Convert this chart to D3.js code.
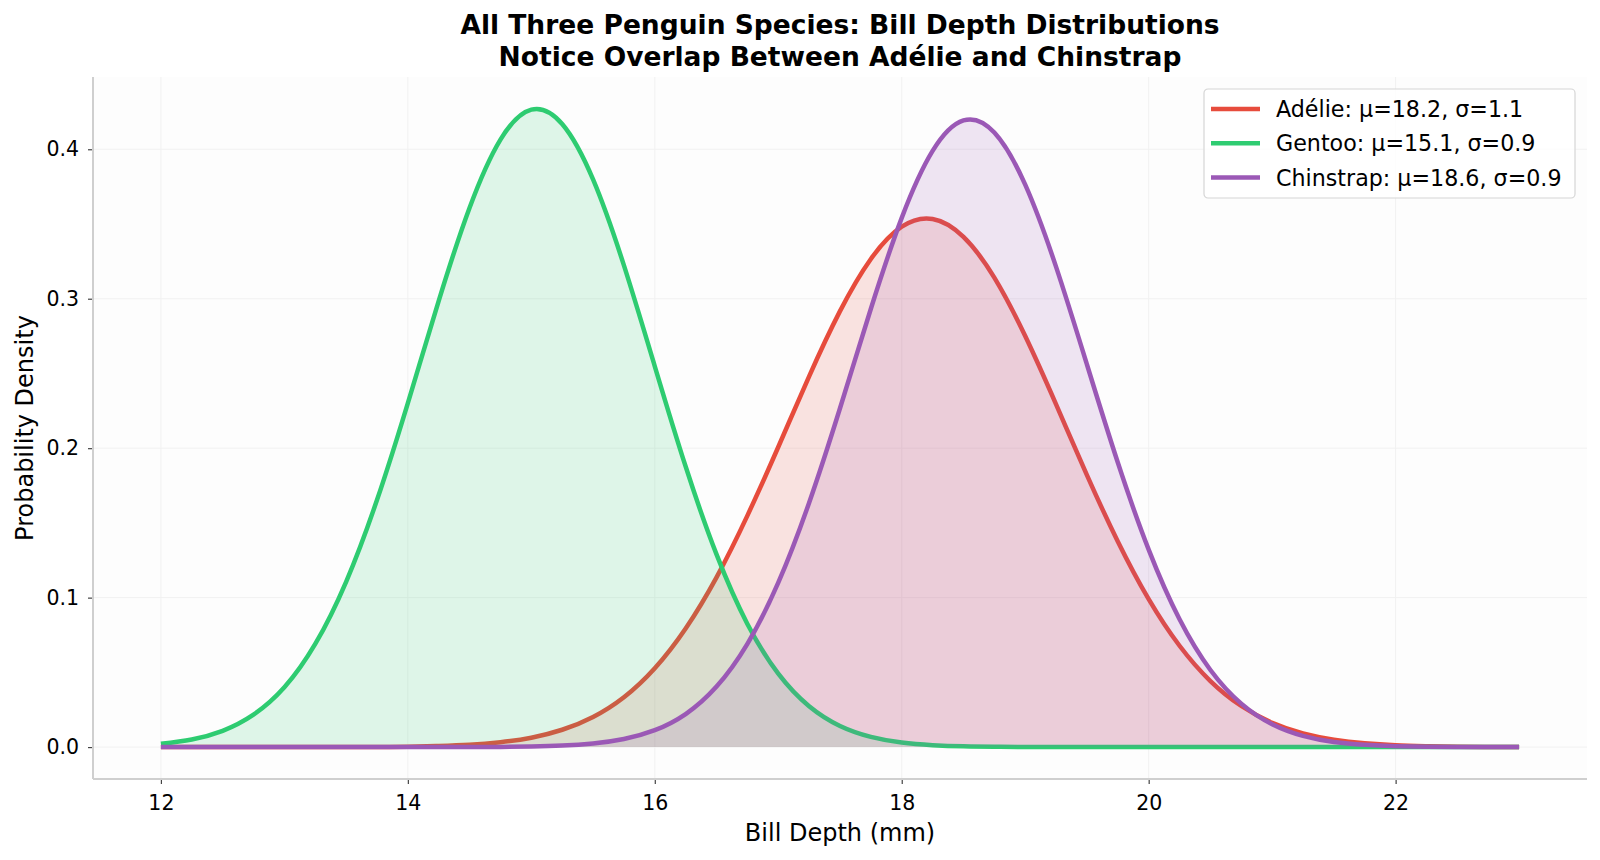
<!DOCTYPE html>
<html>
<head>
<meta charset="utf-8">
<script src="https://cdn.jsdelivr.net/npm/d3@7"></script>
<style>
  body { margin: 0; background: #ffffff; }
  text { font-family: "DejaVu Sans", sans-serif; fill: #000; }
</style>
</head>
<body>
<div id="chart"></div>
<script>
// Bill depth grid (mm) the curves were read at
const depthMm = [12, 12.25, 12.5, 12.75, 13, 13.25, 13.5, 13.75, 14, 14.25, 14.5, 14.75,
  15, 15.25, 15.5, 15.75, 16, 16.25, 16.5, 16.75, 17, 17.25, 17.5, 17.75,
  18, 18.25, 18.5, 18.75, 19, 19.25, 19.5, 19.75, 20, 20.25, 20.5, 20.75,
  21, 21.25, 21.5, 21.75, 22, 22.25, 22.5, 22.75, 23];

// density values
const adelieDensity = [0, 0, 0, 0, 0, 0, 0.0001, 0.0001, 0.0003, 0.0008, 0.0016, 0.0033,
  0.0063, 0.0116, 0.0202, 0.0334, 0.0528, 0.0794, 0.1136, 0.1549, 0.2008, 0.2481, 0.2917, 0.3266,
  0.3482, 0.3534, 0.3414, 0.3141, 0.2750, 0.2293, 0.1820, 0.1376, 0.0990, 0.0678, 0.0442, 0.0275,
  0.0162, 0.0091, 0.0049, 0.0025, 0.0012, 0.0006, 0.0002, 0.0001, 0];

const gentooDensity = [0.0022, 0.0051, 0.0109, 0.0217, 0.0400, 0.0690, 0.1106, 0.1653, 0.2302, 0.2986, 0.3609, 0.4065,
  0.4265, 0.4169, 0.3798, 0.3223, 0.2548, 0.1877, 0.1289, 0.0824, 0.0491, 0.0273, 0.0141, 0.0068,
  0.0030, 0.0013, 0.0005, 0.0002, 0.0001, 0, 0, 0, 0, 0, 0, 0,
  0, 0, 0, 0, 0, 0, 0, 0, 0];

const chinstrapDensity = [0, 0, 0, 0, 0, 0, 0, 0, 0, 0, 0, 0.0001,
  0.0004, 0.0010, 0.0024, 0.0054, 0.0113, 0.0221, 0.0405, 0.0691, 0.1100, 0.1635, 0.2267, 0.2933,
  0.3541, 0.3989, 0.4193, 0.4112, 0.3763, 0.3213, 0.2560, 0.1904, 0.1321, 0.0855, 0.0516, 0.0291,
  0.0153, 0.0075, 0.0034, 0.0015, 0.0006, 0.0002, 0.0001, 0, 0];

const speciesNames = ["Adélie", "Gentoo", "Chinstrap"];
const speciesMeans = ["18.2", "15.1", "18.6"];
const speciesSds = ["1.1", "0.9", "0.9"];
const speciesColors = ["#e74c3c", "#2ecc71", "#9b59b6"];
const speciesDensity = [adelieDensity, gentooDensity, chinstrapDensity];

const xTicks = [12, 14, 16, 18, 20, 22];
const yTicks = [0, 0.1, 0.2, 0.3, 0.4];

const width = 1600;
const height = 860;
const plot = { left: 93, right: 1587, top: 77, bottom: 779 };

const svg = d3.select("#chart")
  .append("svg")
  .attr("width", width)
  .attr("height", height);

// matplotlib style 5% margins
const xMin = d3.min(depthMm), xMax = d3.max(depthMm);
const xPad = (xMax - xMin) * 0.05;
const x = d3.scaleLinear()
  .domain([xMin - xPad, xMax + xPad])
  .range([plot.left, plot.right]);

const yTop = 0.427; // peak height seen in the picture
const y = d3.scaleLinear()
  .domain([-yTop * 0.05, yTop * 1.05])
  .range([plot.bottom, plot.top]);

// plot background
svg.append("rect")
  .attr("x", plot.left)
  .attr("y", plot.top)
  .attr("width", plot.right - plot.left)
  .attr("height", plot.bottom - plot.top)
  .attr("fill", "#fdfdfd");

// faint grid
svg.append("g")
  .selectAll("line")
  .data(xTicks)
  .join("line")
  .attr("x1", d => x(d)).attr("x2", d => x(d))
  .attr("y1", plot.top).attr("y2", plot.bottom)
  .attr("stroke", "#f1f1f1")
  .attr("stroke-width", 1);

svg.append("g")
  .selectAll("line")
  .data(yTicks)
  .join("line")
  .attr("x1", plot.left).attr("x2", plot.right)
  .attr("y1", d => y(d)).attr("y2", d => y(d))
  .attr("stroke", "#f1f1f1")
  .attr("stroke-width", 1);

// curves + fills, drawn in legend order
const line = d3.line()
  .x((d, i) => x(depthMm[i]))
  .y(d => y(d))
  .curve(d3.curveNatural);

const area = d3.area()
  .x((d, i) => x(depthMm[i]))
  .y0(y(0))
  .y1(d => y(d))
  .curve(d3.curveNatural);

speciesDensity.forEach((vals, k) => {
  svg.append("path")
    .datum(vals)
    .attr("d", line)
    .attr("fill", "none")
    .attr("stroke", speciesColors[k])
    .attr("stroke-width", 4.5)
    .attr("stroke-linejoin", "round");

  svg.append("path")
    .datum(vals)
    .attr("d", area)
    .attr("fill", speciesColors[k])
    .attr("fill-opacity", 0.15);
});

// axes
const xAxis = svg.append("g")
  .attr("transform", `translate(0,${plot.bottom})`)
  .call(d3.axisBottom(x).tickValues(xTicks).tickFormat(d3.format("d")).tickSize(5).tickPadding(11));

const yAxis = svg.append("g")
  .attr("transform", `translate(${plot.left},0)`)
  .call(d3.axisLeft(y).tickValues(yTicks).tickFormat(d3.format(".1f")).tickSize(5).tickPadding(9));

[xAxis, yAxis].forEach(ax => {
  ax.select(".domain").remove();
  ax.selectAll(".tick line").attr("stroke", "#444").attr("stroke-width", 1.2);
  ax.selectAll(".tick text")
    .attr("font-family", "DejaVu Sans")
    .attr("font-size", 20.5)
    .attr("fill", "#111");
});

// spines (left + bottom only)
svg.append("line")
  .attr("x1", plot.left).attr("x2", plot.left)
  .attr("y1", plot.top).attr("y2", plot.bottom)
  .attr("stroke", "#cfcfcf").attr("stroke-width", 2);
svg.append("line")
  .attr("x1", plot.left).attr("x2", plot.right)
  .attr("y1", plot.bottom).attr("y2", plot.bottom)
  .attr("stroke", "#cfcfcf").attr("stroke-width", 2);

// axis labels
svg.append("text")
  .attr("x", (plot.left + plot.right) / 2)
  .attr("y", 841)
  .attr("text-anchor", "middle")
  .attr("font-size", 24)
  .text("Bill Depth (mm)");

svg.append("text")
  .attr("transform", `translate(33,${(plot.top + plot.bottom) / 2}) rotate(-90)`)
  .attr("text-anchor", "middle")
  .attr("font-size", 24)
  .text("Probability Density");

// title
const titleLines = ["All Three Penguin Species: Bill Depth Distributions",
  "Notice Overlap Between Adélie and Chinstrap"];
svg.append("g")
  .selectAll("text")
  .data(titleLines)
  .join("text")
  .attr("x", (plot.left + plot.right) / 2)
  .attr("y", (d, i) => 34 + i * 31.8)
  .attr("text-anchor", "middle")
  .attr("font-size", 26.5)
  .attr("font-weight", "bold")
  .text(d => d);

// legend
const legend = svg.append("g").attr("transform", "translate(1204,89)");
legend.append("rect")
  .attr("width", 371)
  .attr("height", 109)
  .attr("rx", 4)
  .attr("fill", "#ffffff")
  .attr("fill-opacity", 0.8)
  .attr("stroke", "#d6d6d6")
  .attr("stroke-width", 1.2);

speciesNames.forEach((name, i) => {
  const row = legend.append("g")
    .attr("transform", `translate(0, ${20 + i * 34.3})`);

  row.append("line")
    .attr("x1", 7).attr("x2", 56)
    .attr("stroke", speciesColors[i])
    .attr("stroke-width", 4.5);

  row.append("text")
    .attr("x", 72)
    .attr("y", 8)
    .attr("font-size", 22.2)
    .text(`${name}: μ=${speciesMeans[i]}, σ=${speciesSds[i]}`);
});
</script>
</body>
</html>
